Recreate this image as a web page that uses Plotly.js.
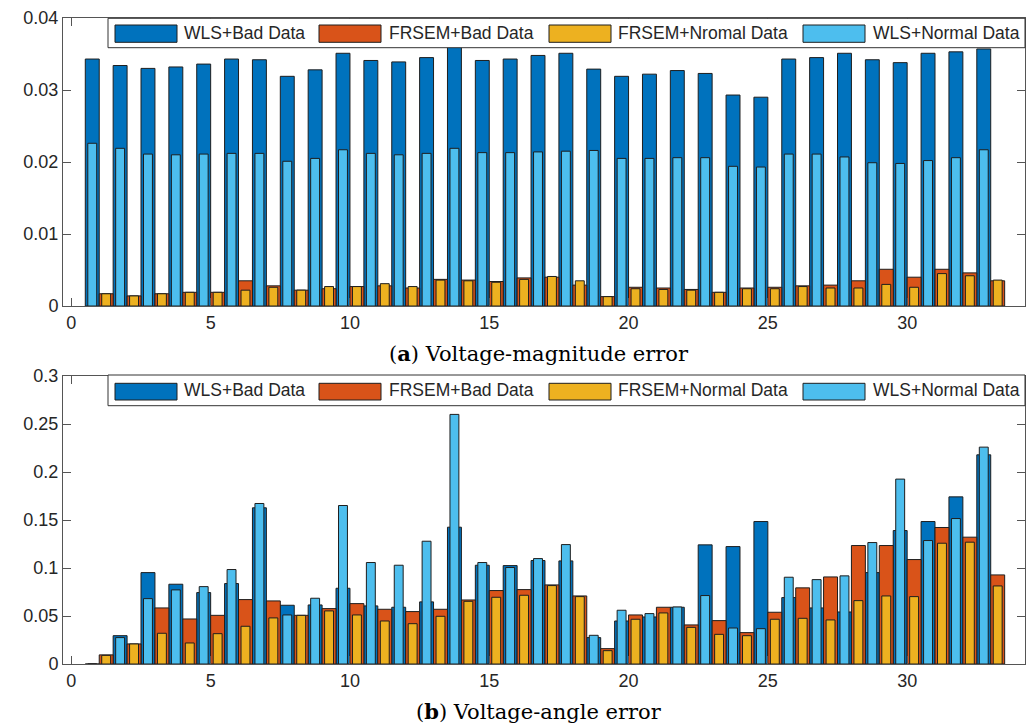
<!DOCTYPE html>
<html>
<head>
<meta charset="utf-8">
<script src="https://cdn.plot.ly/plotly-3.0.1.min.js"></script>
<style>html,body{margin:0;padding:0;background:#fff;}#chart{width:1030px;height:724px;}</style>
</head>
<body>
<div id="chart"></div>
<script>
// ---- data ----
const buses = Array.from({length: 33}, (_, i) => i + 1);

const seriesNamesA = ['WLS+Bad Data', 'FRSEM+Bad Data', 'FRSEM+Nromal Data', 'WLS+Normal Data'];
const seriesNamesB = ['WLS+Bad Data', 'FRSEM+Bad Data', 'FRSEM+Normal Data', 'WLS+Normal Data'];
const titleA = '(<b>a</b>) Voltage-magnitude error';
const titleB = '(<b>b</b>) Voltage-angle error';

// (a) voltage-magnitude error
const magWLSBad = [0.0343,0.0334,0.0330,0.0332,0.0336,0.0343,0.0342,0.0319,0.0328,0.0351,0.0341,
  0.0339,0.0345,0.0362,0.0341,0.0343,0.0348,0.0351,0.0329,0.0319,0.0322,0.0327,0.0323,
  0.0293,0.0290,0.0343,0.0345,0.0351,0.0342,0.0338,0.0351,0.0353,0.0357];
const magWLSNormal = [0.0226,0.0219,0.0211,0.0210,0.0211,0.0212,0.0212,0.0201,0.0205,0.0217,0.0212,
  0.0210,0.0212,0.0219,0.0213,0.0213,0.0214,0.0215,0.0216,0.0205,0.0205,0.0206,0.0206,
  0.0194,0.0193,0.0211,0.0211,0.0207,0.0199,0.0198,0.0202,0.0206,0.0217];
const magFRSEMBad = [0.0017,0.0014,0.0017,0.0019,0.0019,0.0035,0.0028,0.0022,0.0024,0.0027,0.0028,
  0.0025,0.0037,0.0036,0.0034,0.0039,0.0040,0.0029,0.0013,0.0026,0.0025,0.0023,0.0019,
  0.0025,0.0026,0.0028,0.0029,0.0035,0.0051,0.0040,0.0051,0.0046,0.0035];
const magFRSEMNormal = [0.0017,0.0014,0.0017,0.0019,0.0019,0.0022,0.0026,0.0022,0.0027,0.0027,0.0031,
  0.0027,0.0036,0.0035,0.0033,0.0037,0.0041,0.0035,0.0013,0.0024,0.0023,0.0022,0.0019,
  0.0024,0.0024,0.0027,0.0025,0.0025,0.0030,0.0026,0.0045,0.0042,0.0036];

// (b) voltage-angle error
const angWLSBad = [0,0.0295,0.0952,0.0831,0.0744,0.0838,0.1627,0.0612,0.0615,0.0789,0.0605,
  0.0591,0.0647,0.1425,0.1029,0.1025,0.1078,0.1074,0.0275,0.0448,0.0490,0.0591,0.1241,
  0.1223,0.1484,0.0692,0.0584,0.0542,0.0952,0.1390,0.1484,0.1741,0.2179];
const angWLSNormal = [0,0.0275,0.0681,0.0772,0.0806,0.0984,0.1672,0.0511,0.0685,0.1651,0.1057,
  0.1029,0.1279,0.2600,0.1057,0.1005,0.1098,0.1244,0.0299,0.0560,0.0525,0.0594,0.0713,
  0.0375,0.0368,0.0904,0.0879,0.0918,0.1265,0.1926,0.1286,0.1515,0.2259];
const angFRSEMBad = [0.0095,0.0209,0.0584,0.0469,0.0507,0.0671,0.0657,0.0507,0.0577,0.0629,0.0570,
  0.0546,0.0570,0.0667,0.0765,0.0775,0.0824,0.0709,0.0160,0.0511,0.0591,0.0407,0.0452,
  0.0327,0.0539,0.0793,0.0907,0.1234,0.1234,0.1088,0.1422,0.1321,0.0928];
const angFRSEMNormal = [0.0090,0.0209,0.0320,0.0219,0.0316,0.0393,0.0480,0.0507,0.0553,0.0511,0.0448,
  0.0420,0.0497,0.0653,0.0695,0.0716,0.0817,0.0702,0.0139,0.0466,0.0532,0.0382,0.0309,
  0.0295,0.0466,0.0476,0.0459,0.0660,0.0709,0.0702,0.1258,0.1269,0.0813];

// ---- styling ----
const COLORS = {wlsBad: '#0072BD', frsemBad: '#D95319', frsemNormal: '#EDB120', wlsNormal: '#4DBEEE'};
const EDGE = '#1e1e1e';
const WIDE = 0.5, NARROW = 0.32, SHIFT = 0.25;
const FONT = 'Liberation Sans, Arial, Helvetica, sans-serif';
const SERIF = 'DejaVu Serif, Liberation Serif, serif';
const TXT = '#262626';

const W = 1030, H = 724;
const M = {l: 63, r: 5, t: 18, b: 60};
const PW = W - M.l - M.r, PH = H - M.t - M.b;
const px = x => (x - M.l) / PW;
const py = y => (H - M.b - y) / PH;

function bars(vals, color, dx, width, xa, ya) {
  return {
    type: 'bar', x: buses.map(b => b + dx), y: vals, width: width,
    marker: {color: color, line: {color: EDGE, width: 1}},
    xaxis: xa, yaxis: ya, showlegend: false, hoverinfo: 'x+y'
  };
}

const data = [
  bars(magWLSBad, COLORS.wlsBad, -SHIFT, WIDE, 'x', 'y'),
  bars(magWLSNormal, COLORS.wlsNormal, -SHIFT, NARROW, 'x', 'y'),
  bars(magFRSEMBad, COLORS.frsemBad, SHIFT, WIDE, 'x', 'y'),
  bars(magFRSEMNormal, COLORS.frsemNormal, SHIFT, NARROW, 'x', 'y'),
  bars(angWLSBad, COLORS.wlsBad, -SHIFT, WIDE, 'x2', 'y2'),
  bars(angWLSNormal, COLORS.wlsNormal, -SHIFT, NARROW, 'x2', 'y2'),
  bars(angFRSEMBad, COLORS.frsemBad, SHIFT, WIDE, 'x2', 'y2'),
  bars(angFRSEMNormal, COLORS.frsemNormal, SHIFT, NARROW, 'x2', 'y2')
];

const topBottom = py(306), botTop = py(376);

const axisCommon = {
  showgrid: false, zeroline: false, showline: true, linecolor: '#555', linewidth: 1,
  mirror: 'ticks', ticks: 'inside', ticklen: 8, tickcolor: '#555', tickwidth: 1,
  tickfont: {family: FONT, size: 18, color: TXT}
};
const xRange = [-0.3, 34.23];

// ---- custom legends ----
const shapes = [], annotations = [];
const swatchX = [[115, 177], [319, 381], [549, 611], [803, 865]];
const textX = [182, 387, 616, 871];
const legendColors = [COLORS.wlsBad, COLORS.frsemBad, COLORS.frsemNormal, COLORS.wlsNormal];
function addLegend(names, boxTop, boxBot, swTop, swBot) {
  shapes.push({type: 'rect', xref: 'paper', yref: 'paper', x0: px(108), x1: px(1025), y0: py(boxBot), y1: py(boxTop),
    fillcolor: '#ffffff', line: {color: '#333', width: 1}, layer: 'above'});
  names.forEach((n, i) => {
    shapes.push({type: 'rect', xref: 'paper', yref: 'paper', x0: px(swatchX[i][0]), x1: px(swatchX[i][1]),
      y0: py(swBot), y1: py(swTop), fillcolor: legendColors[i], line: {color: EDGE, width: 1}, layer: 'above'});
    annotations.push({xref: 'paper', yref: 'paper', x: px(textX[i]), y: py((boxTop + boxBot) / 2), text: n,
      showarrow: false, xanchor: 'left', yanchor: 'middle', font: {family: FONT, size: 17.5, color: TXT}});
  });
}
addLegend(seriesNamesA, 18.3, 47.7, 25, 42.3);
addLegend(seriesNamesB, 375, 405.7, 383.3, 400);

annotations.push({xref: 'paper', yref: 'paper', x: px(539), y: py(353), text: titleA, showarrow: false,
  xanchor: 'center', yanchor: 'middle', font: {family: SERIF, size: 21, color: '#000'}});
annotations.push({xref: 'paper', yref: 'paper', x: px(539), y: py(711), text: titleB, showarrow: false,
  xanchor: 'center', yanchor: 'middle', font: {family: SERIF, size: 21, color: '#000'}});

const layout = {
  width: W, height: H, margin: M, paper_bgcolor: '#fff', plot_bgcolor: '#fff',
  barmode: 'overlay', showlegend: false,
  xaxis: Object.assign({}, axisCommon, {domain: [0, 1], anchor: 'y', range: xRange, tickvals: [0,5,10,15,20,25,30]}),
  yaxis: Object.assign({}, axisCommon, {domain: [topBottom, 1], anchor: 'x', range: [0, 0.04], dtick: 0.01}),
  xaxis2: Object.assign({}, axisCommon, {domain: [0, 1], anchor: 'y2', range: xRange, tickvals: [0,5,10,15,20,25,30]}),
  yaxis2: Object.assign({}, axisCommon, {domain: [0, botTop], anchor: 'x2', range: [0, 0.3], dtick: 0.05}),
  shapes: shapes, annotations: annotations
};

Plotly.newPlot('chart', data, layout, {displayModeBar: false, staticPlot: true});
</script>
</body>
</html>
